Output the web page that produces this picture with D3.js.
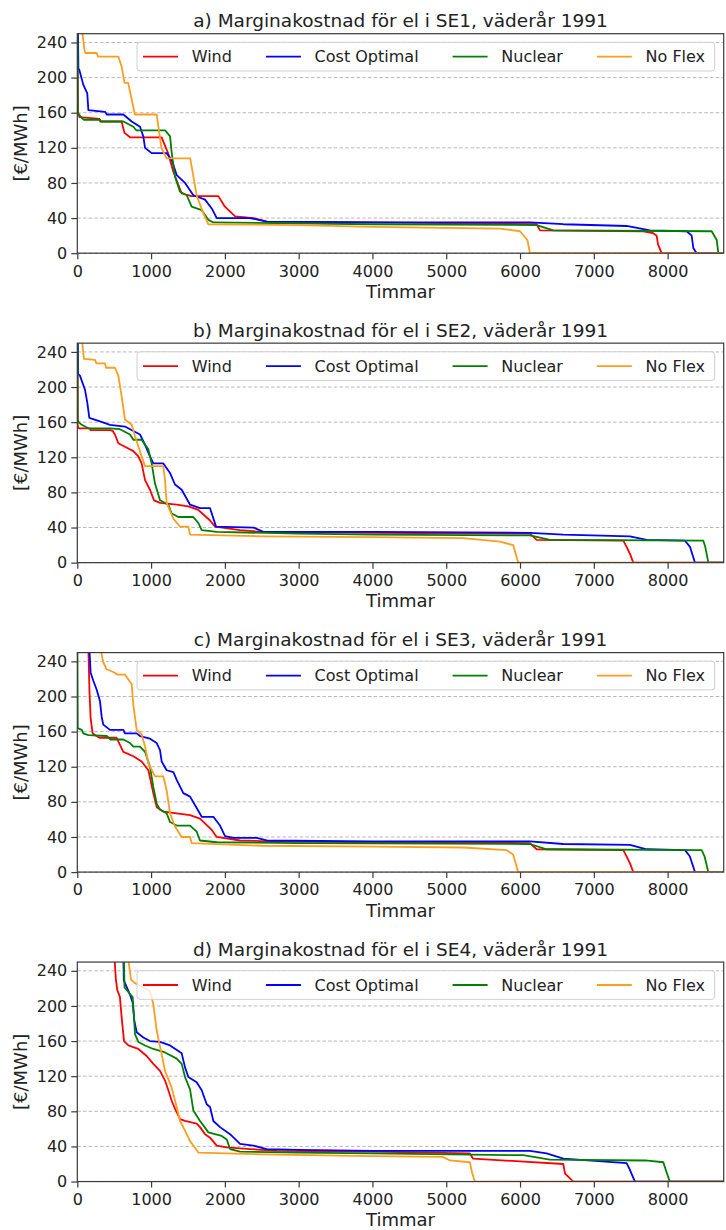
<!DOCTYPE html>
<html>
<head>
<meta charset="utf-8">
<script src="https://cdn.jsdelivr.net/npm/d3@7/dist/d3.min.js"></script>
<style>
  body { margin: 0; background: #fff; }
  svg { display: block; font-family: "DejaVu Sans", sans-serif; }
</style>
</head>
<body>
<div id="chart"></div>
<script>
// ---------- DATA ----------
const seriesNames = ["Wind", "Cost Optimal", "Nuclear", "No Flex"];
const seriesColors = ["#ff0000", "#0000ff", "#008000", "#ff9d1e"];
const panelTitles = [
  "a) Marginakostnad för el i SE1, väderår 1991",
  "b) Marginakostnad för el i SE2, väderår 1991",
  "c) Marginakostnad för el i SE3, väderår 1991",
  "d) Marginakostnad för el i SE4, väderår 1991"
];
const xTicks = [0, 1000, 2000, 3000, 4000, 5000, 6000, 7000, 8000];
const yTicks = [0, 40, 80, 120, 160, 200, 240];
const xLabel = "Timmar";
const yLabel = "[€/MWh]";

// [hour, €/MWh] — sorted duration curves
const windSE1 = [[0,320],[8,160],[30,155],[300,153],[310,150],[600,150],[640,137],[714,132],[1143,132],[1230,114],[1300,93],[1415,68],[1550,65],[1912,65],[2000,53],[2140,42],[2390,40],[2570,36],[4000,35],[6225,33],[6270,26],[7670,25],[7800,23],[7851,20],[7870,10],[7919,0],[8760,0]];
const costSE1 = [[0,320],[15,210],[27,209],[81,192],[135,182],[150,163],[375,161],[400,158],[624,158],[737,150],[850,144],[895,133],[918,120],[1008,114],[1211,114],[1280,106],[1347,89],[1460,80],[1573,66],[1731,61],[1822,51],[1890,40],[2341,40],[2567,36],[4000,35],[6134,35],[6586,33],[7444,31],[7761,26],[8258,25],[8326,20],[8348,6],[8393,0],[8760,0]];
const nuclearSE1 = [[0,320],[8,160],[60,154],[90,152],[307,152],[320,150],[624,150],[760,144],[800,140],[1190,140],[1257,133],[1280,114],[1324,87],[1392,70],[1483,66],[1550,53],[1686,49],[1776,38],[1844,35],[4000,33],[6225,32],[6450,26],[8597,25],[8665,15],[8688,0],[8760,0]];
const noflexSE1 = [[0,500],[55,260],[100,230],[110,228],[262,228],[280,224],[556,224],[600,213],[640,194],[690,194],[780,158],[1075,158],[1140,120],[1210,108],[1530,108],[1620,65],[1710,45],[1775,33],[3000,32],[4000,30],[5727,28],[6000,25],[6100,15],[6134,0],[8760,0]];

const windSE2 = [[0,320],[6,155],[20,153],[170,153],[180,151],[443,151],[480,150],[510,146],[556,136],[646,132],[760,127],[827,121],[872,113],[918,94],[985,83],[1040,71],[1121,68],[1347,66],[1505,64],[1641,60],[1799,48],[1867,41],[2206,37],[2500,35],[4000,34],[6134,33],[6225,26],[7400,25],[7444,18],[7490,10],[7535,0],[8760,0]];
const costSE2 = [[0,320],[10,215],[36,213],[104,197],[136,182],[163,165],[307,161],[443,157],[646,155],[760,150],[850,146],[918,134],[985,121],[1030,113],[1166,113],[1257,102],[1324,89],[1415,83],[1528,66],[1663,62],[1799,62],[1880,41],[2386,40],[2522,35],[4000,35],[6134,34],[6586,32],[7490,30],[7716,26],[8236,25],[8303,18],[8371,0],[8760,0]];
const nuclearSE2 = [[0,320],[6,161],[60,157],[150,153],[443,153],[578,152],[714,146],[760,140],[872,140],[963,129],[1008,113],[1053,90],[1121,71],[1234,66],[1279,56],[1370,52],[1573,52],[1641,45],[1686,37],[1890,35],[3000,33],[4000,32],[6134,31],[6405,26],[8484,25],[8510,18],[8552,0],[8760,0]];
const noflexSE2 = [[0,500],[55,260],[90,232],[240,231],[260,227],[375,227],[390,222],[510,222],[556,213],[600,190],[646,163],[737,157],[782,144],[872,121],[918,110],[1166,110],[1189,94],[1211,68],[1302,50],[1392,41],[1505,41],[1528,32],[2500,30],[4000,29],[5230,28],[5727,24],[5907,20],[5975,0],[8760,0]];

const windSE3 = [[0,500],[150,255],[165,206],[181,175],[208,158],[262,155],[300,153],[533,153],[578,145],[624,137],[760,132],[872,126],[963,116],[1030,90],[1076,74],[1166,69],[1347,67],[1528,65],[1663,61],[1822,48],[1889,40],[2206,36],[2600,35],[4000,34],[6134,33],[6225,26],[7400,25],[7444,18],[7490,10],[7535,0],[8760,0]];
const costSE3 = [[0,500],[160,260],[181,227],[217,218],[262,208],[307,195],[330,177],[352,168],[443,162],[624,162],[646,158],[805,158],[850,155],[985,152],[1076,147],[1121,139],[1143,126],[1211,116],[1302,114],[1347,105],[1437,90],[1528,86],[1618,73],[1686,63],[1844,63],[1934,53],[2002,41],[2115,39],[2432,39],[2567,36],[4000,35],[6134,35],[6586,32],[7490,31],[7716,26],[8236,25],[8300,18],[8371,0],[8760,0]];
const nuclearSE3 = [[0,320],[6,164],[60,162],[81,158],[150,156],[398,155],[450,151],[624,151],[714,147],[760,143],[850,143],[918,137],[985,120],[1030,97],[1076,78],[1121,71],[1211,67],[1257,57],[1347,53],[1528,53],[1618,46],[1663,36],[1890,34],[3000,33],[6134,32],[6360,26],[8462,25],[8500,18],[8552,0],[8760,0]];
const noflexSE3 = [[0,500],[300,260],[352,239],[398,231],[510,227],[540,225],[646,225],[737,214],[760,190],[805,162],[872,157],[918,143],[963,124],[1053,109],[1166,109],[1211,93],[1257,67],[1324,52],[1415,40],[1528,40],[1550,33],[2500,30],[4000,29],[5230,28],[5817,25],[5907,20],[5975,0],[8760,0]];

const windSE4 = [[0,600],[500,260],[524,229],[542,218],[578,210],[601,187],[633,160],[692,155],[827,151],[940,143],[1030,134],[1121,126],[1189,115],[1234,104],[1279,92],[1324,83],[1392,71],[1460,69],[1618,66],[1663,62],[1731,54],[1799,50],[1889,41],[2025,39],[2341,37],[2700,35],[4000,34],[5320,32],[5365,26],[6000,23],[6586,20],[6610,9],[6721,0],[8760,0]];
const costSE4 = [[0,600],[615,300],[630,229],[714,213],[750,204],[773,183],[805,170],[895,164],[985,160],[1121,159],[1257,155],[1415,146],[1460,130],[1505,119],[1618,113],[1686,104],[1754,88],[1799,85],[1844,69],[1934,62],[2070,54],[2206,43],[2386,41],[2567,37],[3000,36],[4000,35],[6134,35],[6360,32],[6586,26],[7444,21],[7480,15],[7557,0],[8760,0]];
const nuclearSE4 = [[0,600],[620,300],[640,221],[750,210],[769,187],[782,168],[827,159],[918,155],[1030,151],[1189,147],[1347,140],[1415,134],[1460,119],[1528,105],[1573,81],[1663,69],[1708,64],[1776,56],[1957,52],[2025,48],[2070,37],[2206,34],[3000,33],[4000,32],[6044,30],[6405,25],[7700,24],[7942,22],[7980,12],[8029,0],[8760,0]];
const noflexSE4 = [[0,600],[680,260],[728,230],[782,226],[895,221],[985,217],[1030,202],[1076,172],[1121,154],[1189,126],[1279,107],[1347,85],[1392,69],[1460,58],[1528,46],[1573,41],[1641,33],[2500,31],[4000,29],[4958,28],[5049,24],[5320,22],[5350,10],[5387,0],[8760,0]];

// ---------- BUILD ----------
const panels = [
  [windSE1, costSE1, nuclearSE1, noflexSE1],
  [windSE2, costSE2, nuclearSE2, noflexSE2],
  [windSE3, costSE3, nuclearSE3, noflexSE3],
  [windSE4, costSE4, nuclearSE4, noflexSE4]
];

const W = 726, H = 1230;
const plotLeft = 77.3, plotRight = 723.7;
const firstTop = 33.7, panelStep = 309.45, plotH = 219.5;
const axisColor = "#3a3a3a", textColor = "#222";

const svg = d3.select("#chart").append("svg")
  .attr("width", W).attr("height", H);

panels.forEach((seriesList, i) => {
  const top = firstTop + i * panelStep;
  const bottom = top + plotH;
  const x = d3.scaleLinear().domain([0, 8760]).range([plotLeft, plotRight]);
  const y = d3.scaleLinear().domain([0, 250]).range([bottom, top]);
  const g = svg.append("g");

  // grid
  g.selectAll("line.grid").data(yTicks).enter().append("line")
    .attr("x1", plotLeft).attr("x2", plotRight)
    .attr("y1", d => y(d)).attr("y2", d => y(d))
    .attr("stroke", "#b8b8b8").attr("stroke-width", 1)
    .attr("stroke-dasharray", "3.5,2.2");

  // clip
  const clipId = "clip" + i;
  svg.append("clipPath").attr("id", clipId).append("rect")
    .attr("x", plotLeft).attr("y", top)
    .attr("width", plotRight - plotLeft).attr("height", plotH);

  const line = d3.line().x(d => x(d[0])).y(d => y(d[1]));
  const lg = g.append("g").attr("clip-path", `url(#${clipId})`);
  seriesList.forEach((data, k) => {
    lg.append("path").datum(data)
      .attr("d", line)
      .attr("fill", "none")
      .attr("stroke", seriesColors[k])
      .attr("stroke-width", 1.8)
      .attr("stroke-linejoin", "round");
  });

  // axes
  const xAxis = d3.axisBottom(x).tickValues(xTicks).tickSize(6).tickPadding(4)
    .tickFormat(d3.format("d"));
  const yAxis = d3.axisLeft(y).tickValues(yTicks).tickSize(6).tickPadding(4)
    .tickFormat(d3.format("d"));
  const gx = g.append("g").attr("transform", `translate(0,${bottom})`).call(xAxis);
  const gy = g.append("g").attr("transform", `translate(${plotLeft},0)`).call(yAxis);
  [gx, gy].forEach(a => {
    a.select(".domain").remove();
    a.selectAll(".tick line").attr("stroke", axisColor).attr("stroke-width", 1.2);
    a.selectAll(".tick text").attr("fill", textColor)
      .style("font-size", "16px").style("font-family", "DejaVu Sans");
  });
  gx.selectAll(".tick text").attr("dy", null).attr("y", 23.4).attr("dominant-baseline", "alphabetic");

  // frame
  g.append("rect")
    .attr("x", plotLeft).attr("y", top)
    .attr("width", plotRight - plotLeft).attr("height", plotH)
    .attr("fill", "none").attr("stroke", axisColor).attr("stroke-width", 1.2);

  // title
  g.append("text")
    .attr("x", (plotLeft + plotRight) / 2).attr("y", top - 6.5)
    .attr("text-anchor", "middle").attr("fill", textColor)
    .style("font-size", "18.5px")
    .text(panelTitles[i]);

  // x label
  g.append("text")
    .attr("x", (plotLeft + plotRight) / 2).attr("y", bottom + 44.5)
    .attr("text-anchor", "middle").attr("fill", textColor)
    .style("font-size", "18px")
    .text(xLabel);

  // y label
  g.append("text")
    .attr("transform", `translate(27,${(top + bottom) / 2}) rotate(-90)`)
    .attr("text-anchor", "middle").attr("fill", textColor)
    .style("font-size", "18px")
    .text(yLabel);

  // legend
  const legX = 137, legY = top + 8.6, legW = 577.7, legH = 28.7;
  const leg = g.append("g");
  leg.append("rect")
    .attr("x", legX).attr("y", legY).attr("width", legW).attr("height", legH)
    .attr("rx", 3).attr("fill", "#fff").attr("fill-opacity", 0.8)
    .attr("stroke", "#d0d0d0").attr("stroke-width", 1);
  let cx = legX + 6;
  const cy = legY + legH / 2;
  seriesNames.forEach((name, k) => {
    leg.append("line")
      .attr("x1", cx).attr("x2", cx + 35)
      .attr("y1", cy).attr("y2", cy)
      .attr("stroke", seriesColors[k]).attr("stroke-width", 1.8);
    const t = leg.append("text")
      .attr("x", cx + 48.7).attr("y", cy + 5.8)
      .attr("fill", textColor).style("font-size", "16px")
      .text(name);
    const tw = t.node().getComputedTextLength();
    cx = cx + 48.7 + tw + 34;
  });
});
</script>
</body>
</html>
